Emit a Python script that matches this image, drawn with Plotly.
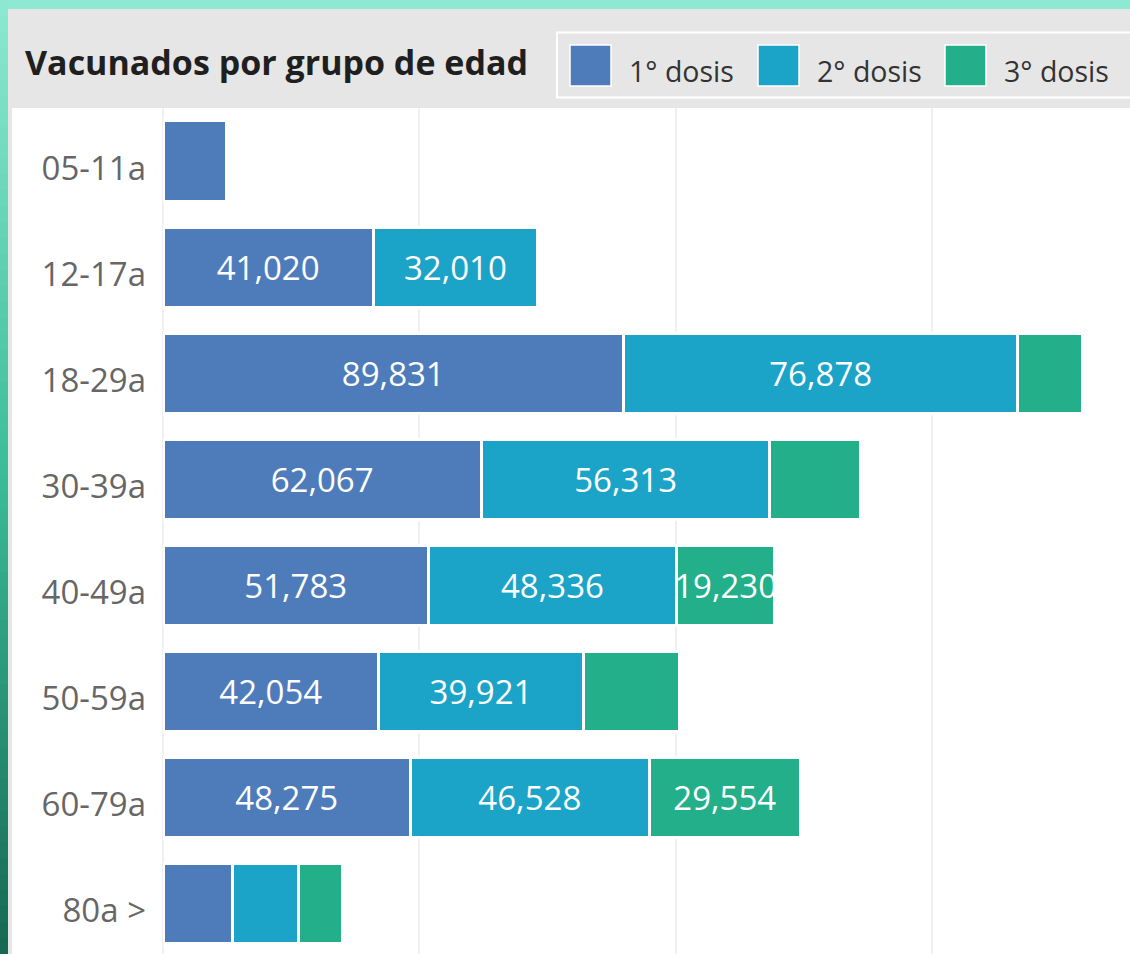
import plotly.graph_objects as go

# ---------------- data ----------------
age_groups = ["05-11a", "12-17a", "18-29a", "30-39a", "40-49a", "50-59a", "60-79a", "80a >"]
series_names = ["1° dosis", "2° dosis", "3° dosis"]
dose1 = [12400, 41020, 89831, 62067, 51783, 42054, 48275, 13650]
dose2 = [0, 32010, 76878, 56313, 48336, 39921, 46528, 12780]
dose3 = [0, 0, 12700, 17560, 19230, 18670, 29554, 8580]
series_colors = ["#4E7CBA", "#1BA4C7", "#22AF89"]
title_text = "Vacunados por grupo de edad"
label_min = 19000  # data labels only appear on segments large enough (as in the reference)

# ---------------- geometry helpers (decoration only) ----------------
W, H = 1130, 954
ML, MT = 163, 108


def xp(px):
    return (px - ML) / (W - ML)


def yp(py):
    return (H - py) / (H - MT)


fig = go.Figure()
for name, vals, col in zip(series_names, [dose1, dose2, dose3], series_colors):
    fig.add_trace(go.Bar(
        y=age_groups,
        x=vals,
        name=name,
        orientation="h",
        marker=dict(color=col, line=dict(color="white", width=3)),
        text=[f"{v:,}" if v >= label_min else "" for v in vals],
        textposition="inside",
        insidetextanchor="middle",
        textangle=0,
        constraintext="none",
        cliponaxis=False,
        textfont=dict(family="Open Sans", size=33, color="white"),
        showlegend=False,
        hoverinfo="skip",
    ))

shapes = []
# white chart body
shapes.append(dict(type="rect", xref="paper", yref="paper", layer="below",
                   x0=xp(12), x1=xp(W + 5), y0=yp(MT), y1=yp(H + 5),
                   fillcolor="white", line=dict(width=0)))
# top border
shapes.append(dict(type="rect", xref="paper", yref="paper", layer="above",
                   x0=xp(-5), x1=xp(W + 5), y0=yp(9), y1=yp(-5),
                   fillcolor="#8DE9D2", line=dict(width=0)))
# left border gradient (decorative)
stops = [(0, (141, 233, 210)), (0.5, (58, 188, 152)), (1.0, (22, 104, 83))]
n = 60
for i in range(n):
    t = (i + 0.5) / n
    for (t0, c0), (t1, c1) in zip(stops[:-1], stops[1:]):
        if t0 <= t <= t1:
            f = (t - t0) / (t1 - t0)
            c = tuple(int(round(a + (b - a) * f)) for a, b in zip(c0, c1))
    y0 = H * i / n
    y1 = H * (i + 1) / n + 1
    shapes.append(dict(type="rect", xref="paper", yref="paper", layer="above",
                       x0=xp(-5), x1=xp(8), y0=yp(y1), y1=yp(y0),
                       fillcolor=f"rgb{c}", line=dict(width=0)))
# legend box
shapes.append(dict(type="rect", xref="paper", yref="paper",
                   x0=xp(557), x1=xp(W + 20), y0=yp(97.5), y1=yp(32.5),
                   fillcolor="rgba(0,0,0,0)", line=dict(color="white", width=2)))

annotations = [dict(text=title_text, xref="paper", yref="paper",
                    x=xp(23), y=yp(62), xanchor="left", yanchor="middle",
                    showarrow=False,
                    font=dict(family="Open Sans", size=34, color="#1f1f1f", weight="bold"))]

leg_sq_x = [570, 758, 945]
for name, col, sx in zip(series_names, series_colors, leg_sq_x):
    shapes.append(dict(type="rect", xref="paper", yref="paper",
                       x0=xp(sx), x1=xp(sx + 41), y0=yp(86), y1=yp(45),
                       fillcolor=col, line=dict(color="white", width=1.5)))
    annotations.append(dict(text=name, xref="paper", yref="paper",
                            x=xp(sx + 57), y=yp(71), xanchor="left", yanchor="middle",
                            showarrow=False,
                            font=dict(family="Open Sans", size=28.5, color="#333333")))

fig.update_layout(
    width=W, height=H,
    margin=dict(l=ML, r=0, t=MT, b=0, pad=0),
    barmode="stack",
    bargap=0.245,
    paper_bgcolor="#E6E6E6",
    plot_bgcolor="white",
    shapes=shapes,
    annotations=annotations,
    showlegend=False,
)
fig.update_xaxes(range=[0, 188600], dtick=50000, showticklabels=False,
                 showgrid=True, gridcolor="#F0F0F0", gridwidth=1.5,
                 zeroline=True, zerolinecolor="#F0F0F0", zerolinewidth=1.5,
                 showline=False, fixedrange=True)
fig.update_yaxes(categoryorder="array", categoryarray=age_groups,
                 range=[7.48, -0.5], showgrid=False, zeroline=False, showline=False,
                 ticklabelstandoff=16, ticklabelshift=-7,
                 tickfont=dict(family="Open Sans", size=33, color="#666666"),
                 fixedrange=True)

fig.write_html("out.html", config={"displayModeBar": False},
               post_script="document.body.style.margin='0';document.body.style.overflow='hidden';")
